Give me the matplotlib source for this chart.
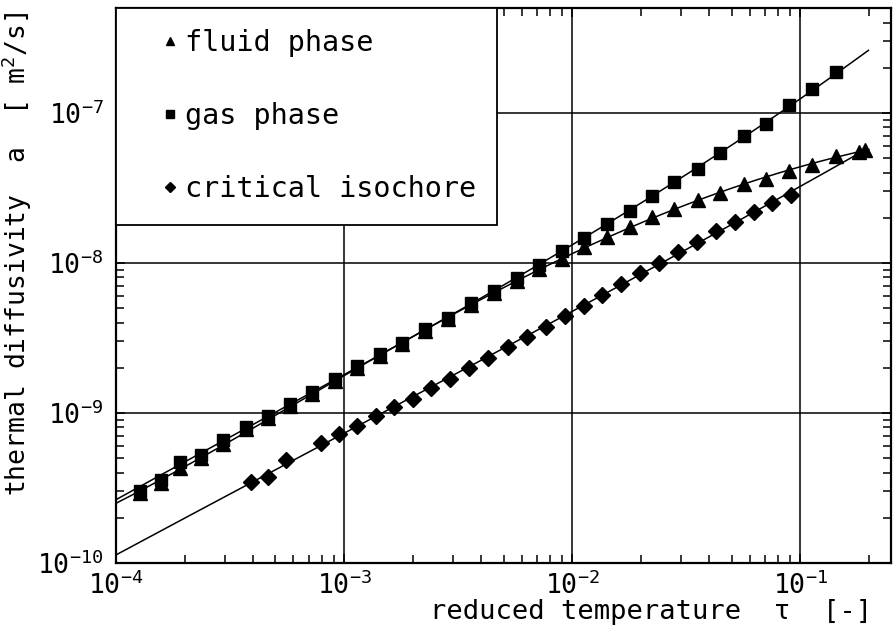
import numpy as np
import matplotlib
matplotlib.use("Agg")
import matplotlib.pyplot as plt
from matplotlib.ticker import LogLocator, NullFormatter, LogFormatterSciNotation

plt.rcParams['font.family'] = ['DejaVu Sans Mono', 'DejaVu Sans']
plt.rcParams['mathtext.fontset'] = 'custom'
plt.rcParams['mathtext.rm'] = 'DejaVu Sans Mono'
plt.rcParams['mathtext.it'] = 'DejaVu Sans Mono:italic'
plt.rcParams['mathtext.bf'] = 'DejaVu Sans Mono:bold'
plt.rcParams['axes.unicode_minus'] = False

# ---------------- data ----------------
gas_tau = [1.28e-4, 1.57e-4, 1.91e-4, 2.37e-4, 2.96e-4, 3.72e-4, 4.66e-4, 5.82e-4,
           7.26e-4, 9.14e-4, 1.143e-3, 1.44e-3, 1.80e-3, 2.26e-3, 2.85e-3, 3.60e-3,
           4.55e-3, 5.71e-3, 7.14e-3, 9.02e-3, 1.13e-2, 1.42e-2, 1.79e-2, 2.24e-2,
           2.80e-2, 3.56e-2, 4.43e-2, 5.64e-2, 7.10e-2, 8.97e-2, 0.113, 0.144]
gas_a = [3.03e-10, 3.57e-10, 4.69e-10, 5.25e-10, 6.61e-10, 8.11e-10, 9.59e-10, 1.148e-9,
         1.374e-9, 1.687e-9, 2.05e-9, 2.46e-9, 2.94e-9, 3.61e-9, 4.32e-9, 5.38e-9,
         6.50e-9, 7.91e-9, 9.70e-9, 1.208e-8, 1.462e-8, 1.81e-8, 2.23e-8, 2.80e-8,
         3.48e-8, 4.24e-8, 5.38e-8, 7.06e-8, 8.45e-8, 1.13e-7, 1.44e-7, 1.88e-7]

fluid_tau = gas_tau + [0.1815, 0.193]
fluid_a = [2.94e-10, 3.40e-10, 4.28e-10, 5.01e-10, 6.18e-10, 7.82e-10, 9.27e-10, 1.114e-9,
           1.34e-9, 1.63e-9, 2.0e-9, 2.40e-9, 2.88e-9, 3.52e-9, 4.24e-9, 5.25e-9,
           6.31e-9, 7.59e-9, 9.08e-9, 1.059e-8, 1.286e-8, 1.496e-8, 1.746e-8, 2.02e-8,
           2.29e-8, 2.63e-8, 2.94e-8, 3.35e-8, 3.61e-8, 4.10e-8, 4.50e-8, 5.19e-8,
           5.52e-8, 5.66e-8]

crit_tau = [3.90e-4, 4.66e-4, 5.57e-4, 7.94e-4, 9.53e-4, 1.143e-3, 1.377e-3, 1.663e-3,
            2.00e-3, 2.41e-3, 2.92e-3, 3.53e-3, 4.27e-3, 5.22e-3, 6.32e-3, 7.67e-3,
            9.29e-3, 1.122e-2, 1.358e-2, 1.64e-2, 1.99e-2, 2.41e-2, 2.92e-2, 3.52e-2,
            4.27e-2, 5.15e-2, 6.24e-2, 7.55e-2, 9.14e-2]
crit_a = [3.45e-10, 3.76e-10, 4.86e-10, 6.34e-10, 7.21e-10, 8.22e-10, 9.59e-10, 1.10e-9,
          1.24e-9, 1.476e-9, 1.687e-9, 1.99e-9, 2.34e-9, 2.74e-9, 3.23e-9, 3.76e-9,
          4.46e-9, 5.19e-9, 6.12e-9, 7.19e-9, 8.53e-9, 1.005e-8, 1.178e-8, 1.374e-8,
          1.62e-8, 1.87e-8, 2.18e-8, 2.50e-8, 2.84e-8]

# end points of the fitted curves
gas_line_tau = [1e-4, 0.199]
gas_line_a = [2.67e-10, 2.60e-7]
fluid_line_tau = [1e-4, 0.20]
fluid_line_a = [2.51e-10, 5.70e-8]
crit_line_tau = [1e-4, 0.183]
crit_line_a = [1.13e-10, 5.43e-8]

x_ticks = [1e-4, 1e-3, 1e-2, 1e-1]
y_ticks = [1e-10, 1e-9, 1e-8, 1e-7]

labels = ["fluid phase", "gas phase", "critical isochore"]
x_label = "reduced temperature  \u03c4  [-]"
y_label = "thermal diffusivity  a  [ m$^{2}$/s]"


def fit_curve(tau, a, ends_tau, ends_a, deg):
    lx = np.log10(np.concatenate([tau, ends_tau]))
    ly = np.log10(np.concatenate([a, ends_a]))
    w = np.ones_like(lx)
    w[-2:] = 3.0
    p = np.polyfit(lx, ly, deg, w=w)
    xs = np.linspace(np.log10(ends_tau[0]), np.log10(ends_tau[1]), 300)
    return 10 ** xs, 10 ** np.polyval(p, xs)


fig = plt.figure(figsize=(8.94, 6.31), dpi=100)
ax = fig.add_axes([116 / 894, 1 - 563 / 631, 775 / 894, 555 / 631])
ax.set_xscale('log')
ax.set_yscale('log')

lw = 1.1
for tau, a, et, ea, deg in [(gas_tau, gas_a, gas_line_tau, gas_line_a, 3),
                            (fluid_tau, fluid_a, fluid_line_tau, fluid_line_a, 4),
                            (crit_tau, crit_a, crit_line_tau, crit_line_a, 3)]:
    fx, fy = fit_curve(tau, a, et, ea, deg)
    ax.plot(fx, fy, color='black', lw=lw, zorder=2)

h_fluid, = ax.plot(fluid_tau, fluid_a, ls='none', marker='^', ms=10, color='black', zorder=3, label=labels[0])
h_crit, = ax.plot(crit_tau, crit_a, ls='none', marker='D', ms=7.8, color='black', zorder=3, label=labels[2])
h_gas, = ax.plot(gas_tau, gas_a, ls='none', marker='s', ms=9.3, color='black', zorder=4, label=labels[1])

ax.set_xticks(x_ticks)
ax.set_yticks(y_ticks)
ax.xaxis.set_major_formatter(LogFormatterSciNotation())
ax.yaxis.set_major_formatter(LogFormatterSciNotation())
ax.xaxis.set_minor_locator(LogLocator(base=10, subs=np.arange(2, 10)))
ax.yaxis.set_minor_locator(LogLocator(base=10, subs=np.arange(2, 10)))
ax.xaxis.set_minor_formatter(NullFormatter())
ax.yaxis.set_minor_formatter(NullFormatter())
ax.set_xlim(1e-4, 0.25)
ax.set_ylim(1e-10, 5e-7)

ax.grid(True, which='major', color='black', lw=1.1)
ax.set_axisbelow(False)
for s in ax.spines.values():
    s.set_linewidth(1.6)

ax.tick_params(which='both', direction='in', top=True, right=True, width=1.1)
ax.tick_params(which='major', length=6.5, labelsize=19)
ax.tick_params(axis='x', which='major', pad=6)
ax.tick_params(axis='y', which='major', pad=9)
ax.tick_params(which='minor', length=5.5)

ax.set_xlabel(x_label, fontsize=19.5, ha='right', va='center')
ax.xaxis.set_label_coords(0.976, -0.088)
ax.set_ylabel(y_label, fontsize=19, va='center')
ax.yaxis.set_label_coords(-0.128, 0.558)

leg = ax.legend([h_fluid, h_gas, h_crit], labels, loc='upper left', bbox_to_anchor=(0, 1),
                borderaxespad=0, frameon=True, fancybox=False, edgecolor='black',
                framealpha=1, fontsize=20.5, handlelength=2.3, handletextpad=-0.63,
                labelspacing=1.58, borderpad=0.75, markerscale=0.6)
leg.get_frame().set_linewidth(1.3)
leg.set_zorder(6)

fig.savefig("out.png", dpi=100)
